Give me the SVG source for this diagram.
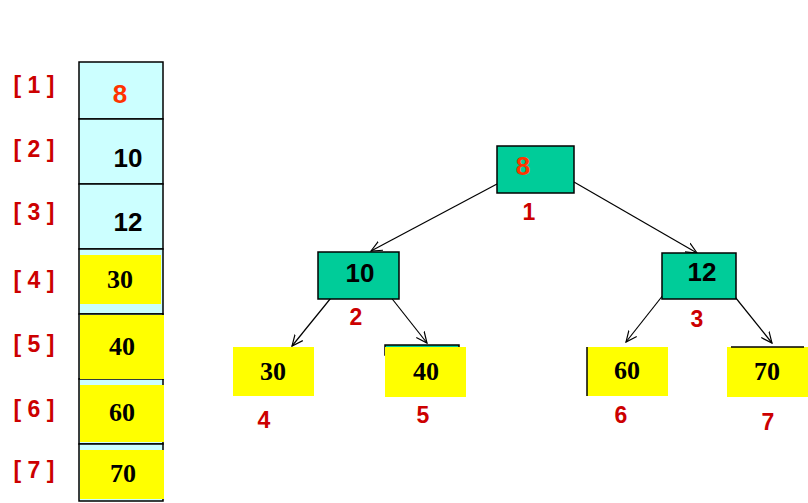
<svg xmlns="http://www.w3.org/2000/svg" width="808" height="503" viewBox="0 0 808 503">
<defs>
<style>
.idx{font-family:"Liberation Sans",Arial,sans-serif;font-weight:bold;font-size:23px;fill:#CC0000;text-anchor:middle}
.num{font-family:"Liberation Sans",Arial,sans-serif;font-weight:bold;font-size:26px;fill:#000;text-anchor:middle}
.top{fill:#FF3300}
.ser{font-family:"Liberation Serif","Times New Roman",serif;font-weight:bold;font-size:26px;fill:#000;text-anchor:middle}
.cell{fill:#CCFFFF;stroke:#000;stroke-width:1.5}
.yel{fill:#FFFF00}
.teal{fill:#00CC99;stroke:#000;stroke-width:1.5}
.edge{stroke:#000;stroke-width:1.2;fill:none;marker-end:url(#arr)}
</style>
<marker id="arr" viewBox="0 0 12 12" refX="11" refY="6" markerWidth="12" markerHeight="12" markerUnits="userSpaceOnUse" orient="auto">
<polyline points="0,1 11,6 0,11" fill="none" stroke="#000" stroke-width="1.2"/>
</marker>
</defs>
<g id="array">
<rect class="cell" x="79" y="62" width="84" height="57"/>
<rect class="cell" x="79" y="119" width="84" height="65"/>
<rect class="cell" x="79" y="184" width="84" height="65"/>
<rect class="cell" x="79" y="249" width="84" height="65"/>
<rect class="cell" x="79" y="314" width="84" height="65"/>
<rect class="cell" x="79" y="379" width="84" height="65"/>
<rect class="cell" x="79" y="444" width="84" height="57"/>
<rect class="yel" x="80" y="255" width="81" height="49"/>
<rect class="yel" x="80" y="315" width="84" height="64"/>
<rect class="yel" x="80" y="385" width="84" height="57"/>
<rect class="yel" x="80" y="450" width="84" height="49"/>
<text class="num top" x="120" y="103">8</text>
<text class="num" x="128" y="167">10</text>
<text class="num" x="128" y="231">12</text>
<text class="ser" x="120" y="288">30</text>
<text class="ser" x="122" y="355">40</text>
<text class="ser" x="122" y="421">60</text>
<text class="ser" x="123" y="482">70</text>
</g>
<g id="indices">
<text class="idx" x="34" y="93">[ 1 ]</text>
<text class="idx" x="34" y="157">[ 2 ]</text>
<text class="idx" x="34" y="220">[ 3 ]</text>
<text class="idx" x="34" y="288">[ 4 ]</text>
<text class="idx" x="34" y="352">[ 5 ]</text>
<text class="idx" x="34" y="417">[ 6 ]</text>
<text class="idx" x="34" y="478">[ 7 ]</text>
</g>
<g id="connectors">
<line class="edge" x1="497" y1="184" x2="371" y2="251"/>
<line class="edge" x1="574" y1="182" x2="697" y2="253"/>
<line class="edge" x1="339" y1="288" x2="292" y2="346"/>
<line class="edge" x1="382" y1="286" x2="427" y2="343"/>
<line class="edge" x1="675" y1="280" x2="626" y2="342"/>
<line class="edge" x1="727" y1="287" x2="772" y2="343"/>
</g>
<g id="node1">
<rect class="teal" x="497" y="146" width="77" height="47"/>
<text class="num top" x="523" y="175">8</text>
<text class="idx" x="529" y="220">1</text>
</g>
<g id="node2">
<rect class="teal" x="318" y="252" width="81" height="47"/>
<text class="num" x="360" y="282">10</text>
<text class="idx" x="356" y="325">2</text>
</g>
<g id="node3">
<rect class="teal" x="662" y="253" width="74" height="46"/>
<text class="num" x="702" y="281">12</text>
<text class="idx" x="697" y="327">3</text>
</g>
<g id="node4">
<rect class="yel" x="233" y="347" width="81" height="49"/>
<text class="ser" x="273" y="380">30</text>
<text class="idx" x="264" y="428">4</text>
</g>
<g id="node5">
<rect class="teal" x="385" y="345" width="74" height="10"/>
<rect class="yel" x="385" y="347" width="81" height="50"/>
<text class="ser" x="426" y="380">40</text>
<text class="idx" x="423" y="423">5</text>
</g>
<g id="node6">
<rect class="yel" x="587" y="347" width="81" height="49"/>
<line x1="587" y1="347" x2="587" y2="396" stroke="#000" stroke-width="1.5"/>
<text class="ser" x="627" y="379">60</text>
<text class="idx" x="621" y="423">6</text>
</g>
<g id="node7">
<rect class="yel" x="727" y="347" width="81" height="50"/>
<line x1="731" y1="347" x2="804" y2="347" stroke="#000" stroke-width="1.5"/>
<text class="ser" x="767" y="380">70</text>
<text class="idx" x="768" y="430">7</text>
</g>
</svg>
